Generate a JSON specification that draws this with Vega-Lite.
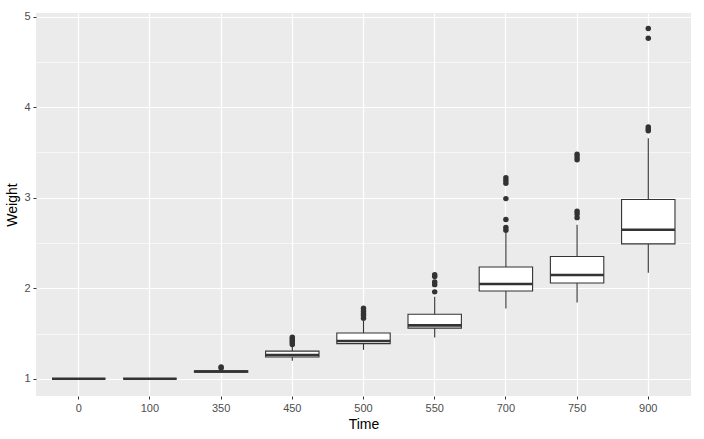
{
  "$schema": "https://vega.github.io/schema/vega-lite/v6.json",
  "width": 655,
  "height": 383,
  "autosize": "none",
  "padding": {"left": 36, "top": 13, "right": 13, "bottom": 43},
  "background": "white",
  "config": {
    "view": {"fill": "#EBEBEB", "stroke": null},
    "font": "Liberation Sans",
    "axis": {
      "labelColor": "#4D4D4D",
      "labelFontSize": 11,
      "labelFont": "Liberation Sans",
      "titleFont": "Liberation Sans",
      "titleFontSize": 14,
      "titleFontWeight": "normal",
      "titleColor": "#000000",
      "tickColor": "#333333",
      "tickSize": 3,
      "tickWidth": 1,
      "domain": false,
      "gridColor": "#FFFFFF",
      "gridWidth": 1.2
    }
  },
  "datasets": {
    "boxes": [
      {"Time": "0", "lower": 1.0, "q1": 1.0, "median": 1.0, "q3": 1.0, "upper": 1.0},
      {"Time": "100", "lower": 1.0, "q1": 1.0, "median": 1.0, "q3": 1.0, "upper": 1.0},
      {"Time": "350", "lower": 1.065, "q1": 1.072, "median": 1.08, "q3": 1.088, "upper": 1.10},
      {"Time": "450", "lower": 1.20, "q1": 1.24, "median": 1.262, "q3": 1.306, "upper": 1.35},
      {"Time": "500", "lower": 1.32, "q1": 1.388, "median": 1.417, "q3": 1.506, "upper": 1.647},
      {"Time": "550", "lower": 1.455, "q1": 1.56, "median": 1.59, "q3": 1.713, "upper": 1.906},
      {"Time": "700", "lower": 1.777, "q1": 1.969, "median": 2.047, "q3": 2.235, "upper": 2.61},
      {"Time": "750", "lower": 1.843, "q1": 2.058, "median": 2.146, "q3": 2.35, "upper": 2.70},
      {"Time": "900", "lower": 2.17, "q1": 2.49, "median": 2.646, "q3": 2.98, "upper": 3.656}
    ],
    "outliers": [
      {"Time": "350", "Weight": 1.12},
      {"Time": "350", "Weight": 1.13},
      {"Time": "450", "Weight": 1.38},
      {"Time": "450", "Weight": 1.40},
      {"Time": "450", "Weight": 1.42},
      {"Time": "450", "Weight": 1.44},
      {"Time": "450", "Weight": 1.46},
      {"Time": "500", "Weight": 1.67},
      {"Time": "500", "Weight": 1.70},
      {"Time": "500", "Weight": 1.72},
      {"Time": "500", "Weight": 1.75},
      {"Time": "500", "Weight": 1.78},
      {"Time": "550", "Weight": 1.96},
      {"Time": "550", "Weight": 2.04},
      {"Time": "550", "Weight": 2.07},
      {"Time": "550", "Weight": 2.13},
      {"Time": "550", "Weight": 2.15},
      {"Time": "700", "Weight": 2.64},
      {"Time": "700", "Weight": 2.67},
      {"Time": "700", "Weight": 2.76},
      {"Time": "700", "Weight": 2.99},
      {"Time": "700", "Weight": 3.16},
      {"Time": "700", "Weight": 3.19},
      {"Time": "700", "Weight": 3.22},
      {"Time": "750", "Weight": 2.78},
      {"Time": "750", "Weight": 2.82},
      {"Time": "750", "Weight": 2.85},
      {"Time": "750", "Weight": 3.42},
      {"Time": "750", "Weight": 3.45},
      {"Time": "750", "Weight": 3.48},
      {"Time": "900", "Weight": 3.74},
      {"Time": "900", "Weight": 3.76},
      {"Time": "900", "Weight": 3.78},
      {"Time": "900", "Weight": 4.76},
      {"Time": "900", "Weight": 4.87}
    ]
  },
  "resolve": {"axis": {"y": "independent"}},
  "layer": [
    {
      "layer": [
        {
          "data": {"name": "boxes"},
          "mark": {"type": "rule", "color": "#333333", "strokeWidth": 1.1},
          "encoding": {
            "x": {
              "field": "Time", "type": "nominal",
              "sort": ["0", "100", "350", "450", "500", "550", "700", "750", "900"],
              "scale": {"paddingInner": 0, "paddingOuter": 0.1},
              "axis": {"labelAngle": 0, "grid": true, "bandPosition": 0.5, "labelPadding": 3, "titlePadding": 4, "title": "Time"}
            },
            "y": {
              "field": "lower", "type": "quantitative",
              "scale": {"domain": [0.81, 5.04], "nice": false, "zero": false},
              "axis": {"values": [1, 2, 3, 4, 5], "format": "d", "title": "Weight", "grid": true, "labelPadding": 3, "titlePadding": 4}
            },
            "y2": {"field": "upper"}
          }
        },
        {
          "data": {"name": "boxes"},
          "mark": {"type": "bar", "fill": "#FFFFFF", "stroke": "#333333", "strokeWidth": 1.1, "width": {"band": 0.75}},
          "encoding": {
            "x": {"field": "Time", "type": "nominal", "sort": ["0", "100", "350", "450", "500", "550", "700", "750", "900"]},
            "y": {"field": "q1", "type": "quantitative"},
            "y2": {"field": "q3"}
          }
        },
        {
          "data": {"name": "boxes"},
          "mark": {"type": "tick", "color": "#333333", "size": 53.4, "thickness": 2.6, "opacity": 1},
          "encoding": {
            "x": {"field": "Time", "type": "nominal", "sort": ["0", "100", "350", "450", "500", "550", "700", "750", "900"]},
            "y": {"field": "median", "type": "quantitative"}
          }
        },
        {
          "data": {"name": "outliers"},
          "mark": {"type": "circle", "color": "#333333", "size": 30, "opacity": 1},
          "encoding": {
            "x": {"field": "Time", "type": "nominal", "sort": ["0", "100", "350", "450", "500", "550", "700", "750", "900"]},
            "y": {"field": "Weight", "type": "quantitative"}
          }
        }
      ]
    },
    {
      "data": {"name": "boxes"},
      "mark": {"type": "rule", "opacity": 0},
      "encoding": {
        "x": {"field": "Time", "type": "nominal", "sort": ["0", "100", "350", "450", "500", "550", "700", "750", "900"]},
        "y": {
          "field": "lower", "type": "quantitative",
          "axis": {"orient": "right", "values": [1.5, 2.5, 3.5, 4.5], "grid": true, "gridWidth": 0.6, "labels": false, "ticks": false, "title": null, "domain": false}
        }
      }
    }
  ]
}
